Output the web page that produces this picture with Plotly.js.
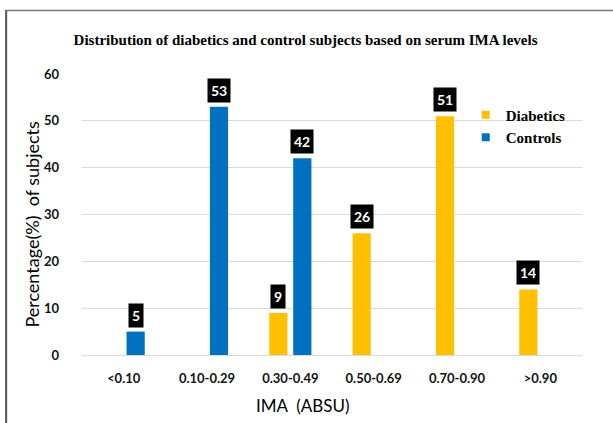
<!DOCTYPE html>
<html>
<head>
<meta charset="utf-8">
<script src="https://cdn.plot.ly/plotly-3.0.1.min.js"></script>
<style>html,body{margin:0;padding:0;background:#fff;}#chart{width:613px;height:423px;}</style>
</head>
<body>
<div id="chart"></div>
<script>
var categories = ["<0.10", "0.10-0.29", "0.30-0.49", "0.50-0.69", "0.70-0.90", ">0.90"];
var diabetics = [0, 0, 9, 26, 51, 14];
var controls = [5, 53, 42, 0, 0, 0];
var yTicks = [0, 10, 20, 30, 40, 50, 60];

var W = 613, H = 423;
var L = 81.5, R = 30.5, T = 74, B = 68;
var pw = W - L - R, ph = H - T - B;
function px(x) { return (x - L) / pw; }
function py(y) { return (H - B - y) / ph; }

var traces = [
  { type: 'bar', name: 'Diabetics', x: categories, y: diabetics, marker: { color: '#FFC000' }, showlegend: false, hoverinfo: 'x+y' },
  { type: 'bar', name: 'Controls', x: categories, y: controls, marker: { color: '#0070C0' }, showlegend: false, hoverinfo: 'x+y' },
  { type: 'scatter', mode: 'markers', name: 'Diabetics', x: [null], y: [null], marker: { color: '#FFC000', symbol: 'square', size: 8 } },
  { type: 'scatter', mode: 'markers', name: 'Controls', x: [null], y: [null], marker: { color: '#0070C0', symbol: 'square', size: 8 } }
];

var annotations = [];
function addLabels(vals, shift) {
  vals.forEach(function (v, i) {
    if (v > 0) {
      annotations.push({
        x: categories[i], y: v, xref: 'x', yref: 'y', xshift: shift, yshift: 4,
        yanchor: 'bottom', xanchor: 'center', showarrow: false,
        text: '<b>' + v + '</b>', bgcolor: '#000000', borderpad: 3,
        font: { family: 'Lato, sans-serif', size: 14, color: '#ffffff' }
      });
    }
  });
}
addLabels(diabetics, -12);
addLabels(controls, 12);

annotations.push({
  xref: 'paper', yref: 'paper', x: px(302.5), y: py(405), xanchor: 'center', yanchor: 'middle',
  showarrow: false, text: 'IMA\u00a0 (ABSU)', font: { family: 'Lato, sans-serif', size: 17, color: '#000' }
});
annotations.push({
  xref: 'paper', yref: 'paper', x: px(31), y: py(224), xanchor: 'center', yanchor: 'middle',
  showarrow: false, textangle: -90, text: 'Percentage(%)\u00a0 of subjects',
  font: { family: 'Lato, sans-serif', size: 18, color: '#000' }
});

var layout = {
  width: W, height: H,
  margin: { l: L, r: R, t: T, b: B, pad: 0 },
  paper_bgcolor: '#fff', plot_bgcolor: '#fff',
  title: {
    text: '<b>Distribution of diabetics and control subjects based on serum IMA levels</b>',
    font: { family: '"Liberation Serif", "Times New Roman", serif', size: 15, color: '#000' },
    xref: 'paper', x: px(305.5), xanchor: 'center', yref: 'container', y: 1 - 40 / H, yanchor: 'middle'
  },
  barmode: 'group', bargap: 0.425, bargroupgap: 0.24,
  xaxis: {
    type: 'category', tickfont: { family: 'Lato, sans-serif', size: 13, color: '#111', weight: 'bold' },
    showline: false, ticks: '', ticklabelstandoff: 14, showgrid: false, zeroline: false
  },
  yaxis: {
    range: [0, 60], tickvals: yTicks, ticktext: yTicks.map(String),
    tickfont: { family: 'Lato, sans-serif', size: 13, color: '#111', weight: 'bold' },
    showgrid: true, gridcolor: '#d9d9d9', gridwidth: 1, zeroline: true, zerolinecolor: '#d9d9d9', zerolinewidth: 1,
    showline: false, ticks: '', ticklabelstandoff: 22
  },
  legend: {
    x: px(466), y: py(98.5), xanchor: 'left', yanchor: 'top',
    font: { family: '"Liberation Serif", "Times New Roman", serif', size: 15, color: '#000', weight: 'bold' },
    bgcolor: 'rgba(0,0,0,0)', tracegroupgap: 0
  },
  annotations: annotations,
  shapes: [
    { type: 'line', xref: 'paper', yref: 'paper', x0: px(5.5), x1: px(5.5), y0: py(10), y1: py(430), line: { color: '#555', width: 2 } },
    { type: 'line', xref: 'paper', yref: 'paper', x0: px(5), x1: px(620), y0: py(10.5), y1: py(10.5), line: { color: '#777', width: 1.5 } }
  ]
};

Plotly.newPlot('chart', traces, layout, { displayModeBar: false, staticPlot: true });
</script>
</body>
</html>
